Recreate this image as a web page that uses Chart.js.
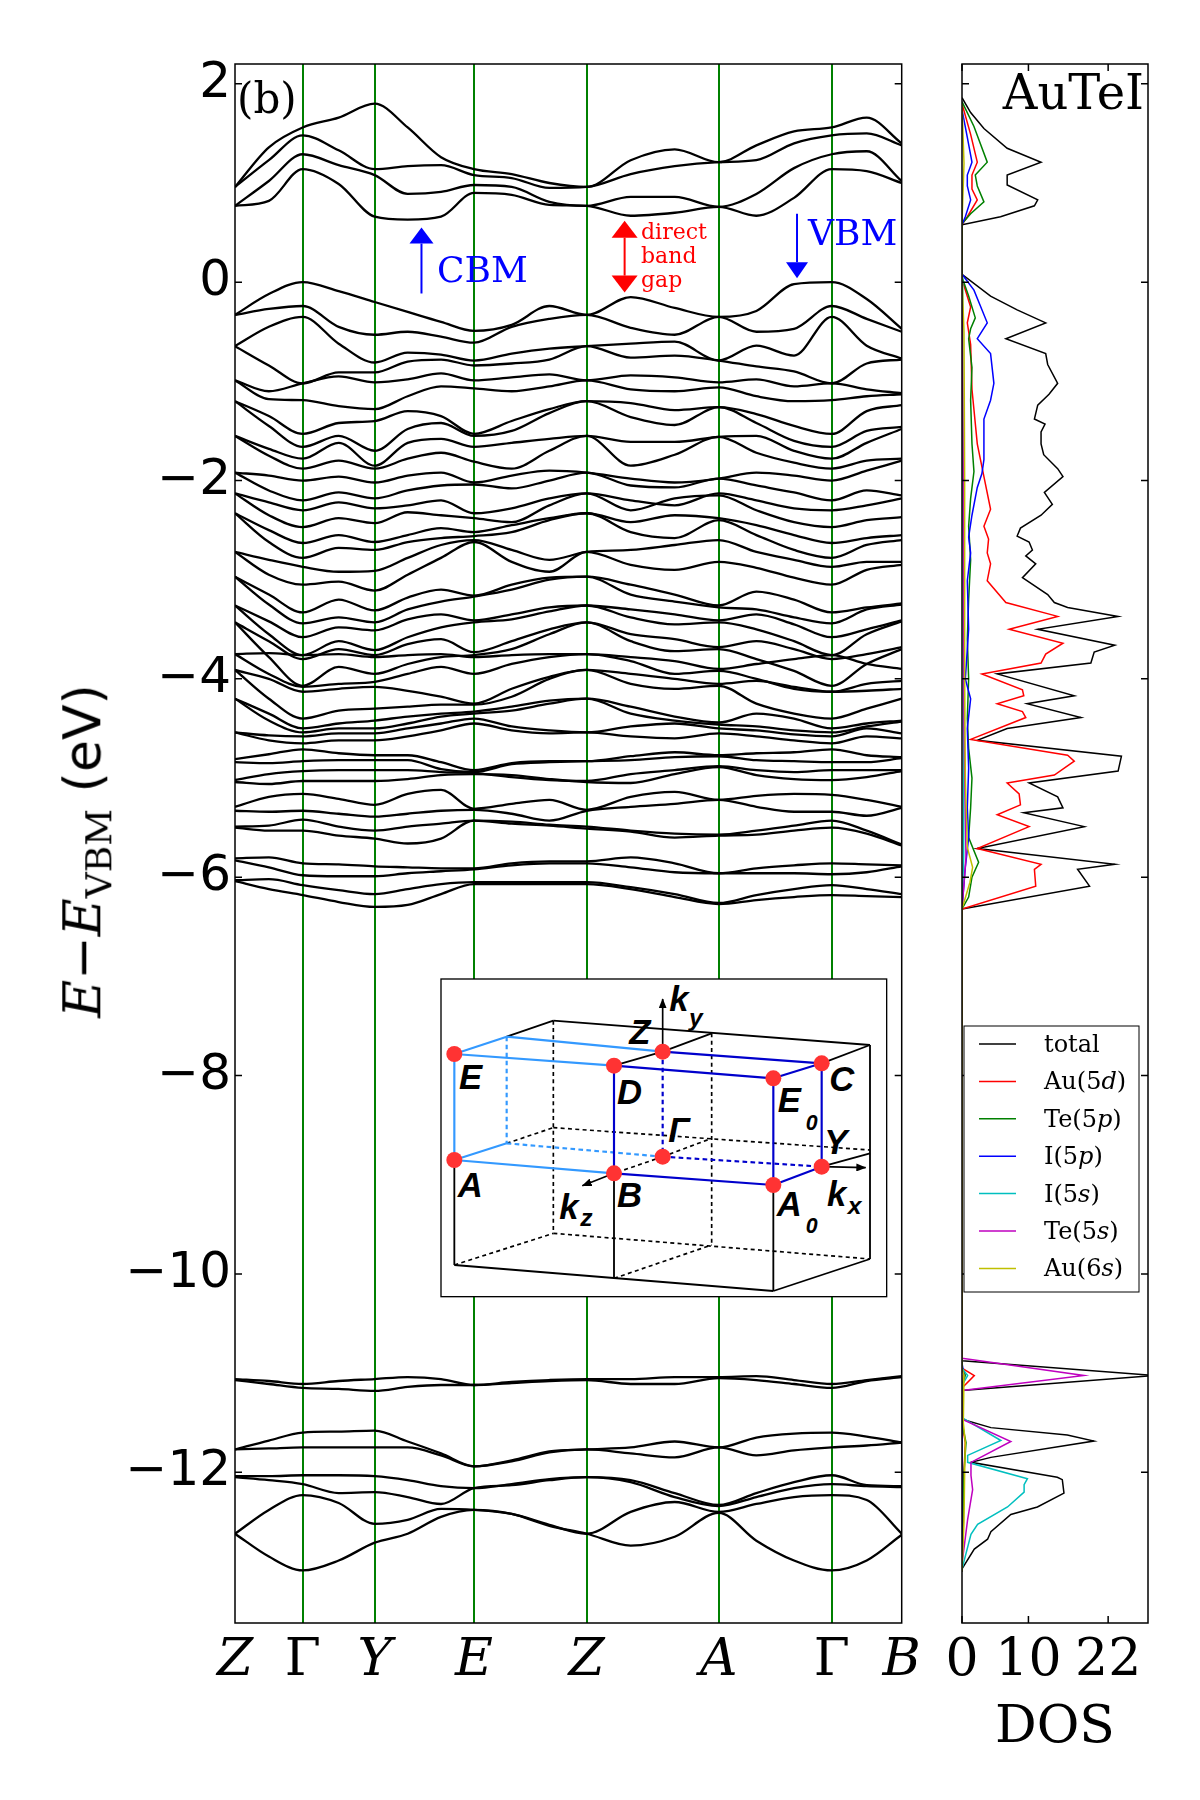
<!DOCTYPE html>
<html>
<head>
<meta charset="utf-8">
<script src="https://cdn.jsdelivr.net/npm/chart.js@4.4.1/dist/chart.umd.min.js"></script>
<style>
  html, body { margin: 0; padding: 0; background: #fff; }
  #wrap { position: relative; width: 1200px; height: 1800px; }
  canvas { position: absolute; left: 0; top: 0; }
  #ytitle { position: absolute; left: 86px; top: 851px; transform: translate(-50%, -50%) rotate(-90deg);
            white-space: nowrap; font-size: 52px; font-family: "DejaVu Sans"; color: #000; }
  #ytitle .m { font-family: "DejaVu Serif"; font-style: italic; }
  #ytitle sub { font-family: "DejaVu Serif"; font-size: 36px; }
  #inset { position: absolute; left: 435px; top: 975px; }
</style>
</head>
<body>
<div id="wrap">
  <canvas id="bands" width="1200" height="1800"></canvas>
  <canvas id="dos" width="1200" height="1800"></canvas>
  <div id="ytitle"><span class="m">E</span>−<span class="m">E</span><sub>VBM</sub> (eV)</div>
  <svg id="inset" width="460" height="340" viewBox="0 0 1380 1020">
    <defs>
      <marker id="ah" markerWidth="30" markerHeight="24" refX="28" refY="12" orient="auto" markerUnits="userSpaceOnUse">
        <path d="M0,0 L30,12 L0,24 Z" fill="#000"/>
      </marker>
    </defs>
    <rect x="18" y="12" width="1337" height="953" fill="#fff" stroke="#000" stroke-width="4"/>
    <g stroke="#000" stroke-width="5.5" fill="none">
      <line x1="355" y1="137" x2="1305" y2="210"/>
      <line x1="215" y1="185" x2="355" y2="137"/>
      <line x1="1160" y1="265" x2="1305" y2="210"/>
      <line x1="1305" y1="210" x2="1305" y2="852"/>
      <line x1="1305" y1="852" x2="1015" y2="948"/>
      <line x1="1015" y1="948" x2="58" y2="870"/>
      <line x1="58" y1="555" x2="58" y2="870"/>
      <line x1="537" y1="595" x2="537" y2="910"/>
      <line x1="1015" y1="630" x2="1015" y2="948"/>
      <line x1="1160" y1="575" x2="1305" y2="535"/>
      <line x1="683" y1="230" x2="830" y2="175"/>
      <line x1="537" y1="272" x2="683" y2="230"/>
    </g>
    <g stroke="#000" stroke-width="5" fill="none" stroke-dasharray="12 10">
      <line x1="355" y1="137" x2="355" y2="775"/>
      <line x1="830" y1="175" x2="830" y2="810"/>
      <line x1="355" y1="775" x2="1305" y2="852"/>
      <line x1="58" y1="870" x2="355" y2="775"/>
      <line x1="537" y1="910" x2="830" y2="810"/>
      <line x1="215" y1="505" x2="355" y2="458"/>
      <line x1="355" y1="458" x2="1305" y2="525"/>
      <line x1="683" y1="545" x2="830" y2="490"/>
      <line x1="683" y1="545" x2="537" y2="595"/>
    </g>
    <g stroke="#3399ff" stroke-width="6.5" fill="none">
      <line x1="58" y1="237" x2="215" y2="185"/>
      <line x1="58" y1="237" x2="537" y2="272"/>
      <line x1="215" y1="185" x2="683" y2="230"/>
      <line x1="58" y1="237" x2="58" y2="555"/>
      <line x1="58" y1="555" x2="215" y2="505"/>
      <line x1="58" y1="555" x2="537" y2="595"/>
    </g>
    <g stroke="#3399ff" stroke-width="6.5" fill="none" stroke-dasharray="14 10">
      <line x1="215" y1="185" x2="215" y2="505"/>
      <line x1="215" y1="505" x2="683" y2="545"/>
    </g>
    <g stroke="#0000cc" stroke-width="6.5" fill="none">
      <line x1="683" y1="230" x2="1160" y2="265"/>
      <line x1="537" y1="272" x2="1015" y2="310"/>
      <line x1="1015" y1="310" x2="1160" y2="265"/>
      <line x1="537" y1="272" x2="537" y2="595"/>
      <line x1="537" y1="595" x2="1015" y2="630"/>
      <line x1="1015" y1="630" x2="1160" y2="575"/>
      <line x1="1015" y1="310" x2="1015" y2="630"/>
      <line x1="1160" y1="265" x2="1160" y2="575"/>
    </g>
    <g stroke="#0000cc" stroke-width="6.5" fill="none" stroke-dasharray="14 10">
      <line x1="683" y1="230" x2="683" y2="545"/>
      <line x1="683" y1="545" x2="1160" y2="575"/>
    </g>
    <g stroke="#000" stroke-width="5" fill="none">
      <line x1="683" y1="230" x2="683" y2="72" marker-end="url(#ah)"/>
      <line x1="1160" y1="575" x2="1292" y2="578" marker-end="url(#ah)"/>
      <line x1="537" y1="595" x2="442" y2="632" marker-end="url(#ah)"/>
    </g>
    <g fill="#ff3333">
      <circle cx="58" cy="237" r="24"/><circle cx="683" cy="230" r="24"/>
      <circle cx="537" cy="272" r="24"/><circle cx="1160" cy="265" r="24"/>
      <circle cx="1015" cy="310" r="24"/><circle cx="683" cy="545" r="24"/>
      <circle cx="58" cy="555" r="24"/><circle cx="537" cy="595" r="24"/>
      <circle cx="1015" cy="630" r="24"/><circle cx="1160" cy="575" r="24"/>
    </g>
    <g font-family="Liberation Sans, Arial, sans-serif" font-weight="bold" font-style="italic" font-size="104" fill="#000">
      <text x="72" y="342">E</text>
      <text x="583" y="207">Z</text>
      <text x="703" y="107">k</text><text x="762" y="152" font-size="74">y</text>
      <text x="546" y="387">D</text>
      <text x="1183" y="347">C</text>
      <text x="1028" y="412">E</text><text x="1112" y="464" font-size="64">0</text>
      <text x="700" y="502">Γ</text>
      <text x="1168" y="537">Y</text>
      <text x="68" y="667">A</text>
      <text x="546" y="697">B</text>
      <text x="373" y="732">k</text><text x="436" y="754" font-size="74">z</text>
      <text x="1025" y="724">A</text><text x="1112" y="774" font-size="64">0</text>
      <text x="1176" y="692">k</text><text x="1238" y="718" font-size="74">x</text>
    </g>
  </svg>
</div>
<script>
// k-path: sample positions (fraction of path) and high-symmetry points
const kPos = [0, 0.0508, 0.1015, 0.1555, 0.2095, 0.259, 0.309, 0.3585, 0.415, 0.4715,
              0.5275, 0.5935, 0.6595, 0.7255, 0.782, 0.8385, 0.895, 0.9475, 1];
const kHighPos = [0, 0.1015, 0.2095, 0.3585, 0.5275, 0.7255, 0.895, 1];
const kLabels = ['Z', 'Γ', 'Y', 'E', 'Z', 'A', 'Γ', 'B'];
const energyTicks = [2, 0, -2, -4, -6, -8, -10, -12];
const dosTicks = [0, 10, 22];

// conduction bands (eV) at kPos
const conductionBands = [
  [0.96, 1.36, 1.56, 1.66, 1.80, 1.56, 1.26, 1.14, 1.09, 1.00, 0.96, 1.23, 1.34, 1.21, 1.38, 1.52, 1.56, 1.66, 1.40],
  [0.96, 1.23, 1.48, 1.33, 1.14, 1.17, 1.18, 1.08, 1.05, 0.95, 0.96, 1.09, 1.17, 1.21, 1.23, 1.40, 1.48, 1.50, 1.38],
  [0.77, 1.02, 1.29, 1.18, 1.08, 0.89, 0.91, 0.98, 0.96, 0.81, 0.77, 0.86, 0.86, 0.76, 0.89, 1.15, 1.29, 1.32, 1.02],
  [0.77, 0.82, 1.14, 0.99, 0.66, 0.63, 0.66, 0.90, 0.88, 0.78, 0.77, 0.67, 0.70, 0.76, 0.67, 0.85, 1.14, 1.12, 1.00]
];

// valence bands (eV) at kPos
const valenceBands = [
  [-0.33, -0.12, 0, -0.09, -0.20, -0.30, -0.40, -0.49, -0.43, -0.24, -0.33, -0.15, -0.26, -0.35, -0.29, -0.02, 0, -0.17, -0.47],
  [-0.33, -0.27, -0.24, -0.45, -0.53, -0.50, -0.55, -0.61, -0.45, -0.37, -0.33, -0.46, -0.53, -0.35, -0.50, -0.47, -0.24, -0.37, -0.50],
  [-0.645, -0.45, -0.35, -0.62, -0.81, -0.71, -0.73, -0.79, -0.72, -0.67, -0.645, -0.62, -0.60, -0.79, -0.64, -0.74, -0.35, -0.64, -0.77],
  [-0.645, -0.84, -1.02, -0.91, -0.91, -0.80, -0.78, -0.84, -0.82, -0.78, -0.645, -0.76, -0.74, -0.79, -0.85, -0.90, -1.02, -0.82, -0.78],
  [-0.99, -1.10, -1.02, -0.95, -1.01, -0.98, -0.92, -0.99, -0.96, -0.93, -0.99, -0.94, -0.96, -1.01, -0.98, -1.05, -1.02, -1.08, -1.12],
  [-0.99, -1.18, -1.19, -1.25, -1.28, -1.15, -1.05, -1.07, -1.10, -1.05, -0.99, -1.08, -1.10, -1.06, -1.15, -1.20, -1.19, -1.15, -1.13],
  [-1.20, -1.35, -1.53, -1.42, -1.40, -1.30, -1.35, -1.53, -1.40, -1.28, -1.20, -1.22, -1.29, -1.26, -1.33, -1.45, -1.53, -1.30, -1.24],
  [-1.20, -1.45, -1.66, -1.55, -1.70, -1.48, -1.42, -1.55, -1.50, -1.32, -1.20, -1.36, -1.44, -1.26, -1.42, -1.60, -1.66, -1.50, -1.46],
  [-1.55, -1.68, -1.78, -1.62, -1.85, -1.62, -1.58, -1.66, -1.62, -1.58, -1.55, -1.61, -1.61, -1.56, -1.55, -1.70, -1.78, -1.62, -1.48],
  [-1.55, -1.75, -1.88, -1.80, -1.88, -1.78, -1.72, -1.81, -1.88, -1.70, -1.55, -1.85, -1.74, -1.56, -1.72, -1.82, -1.88, -1.80, -1.78],
  [-1.92, -1.95, -2.00, -1.96, -2.02, -1.95, -1.92, -2.02, -1.95, -1.90, -1.92, -1.98, -2.02, -1.98, -1.92, -1.95, -2.00, -1.90, -1.80],
  [-1.92, -2.10, -2.20, -2.12, -2.18, -2.10, -2.05, -2.04, -2.08, -2.00, -1.92, -2.05, -2.07, -1.98, -2.05, -2.12, -2.20, -2.10, -2.15],
  [-2.13, -2.22, -2.30, -2.22, -2.28, -2.25, -2.20, -2.33, -2.28, -2.18, -2.13, -2.20, -2.25, -2.13, -2.20, -2.28, -2.30, -2.25, -2.18],
  [-2.13, -2.35, -2.47, -2.38, -2.43, -2.32, -2.35, -2.38, -2.42, -2.25, -2.13, -2.30, -2.18, -2.15, -2.30, -2.42, -2.47, -2.40, -2.37],
  [-2.33, -2.50, -2.63, -2.55, -2.62, -2.55, -2.48, -2.52, -2.45, -2.38, -2.33, -2.42, -2.35, -2.38, -2.45, -2.55, -2.63, -2.58, -2.55],
  [-2.33, -2.62, -2.78, -2.68, -2.70, -2.62, -2.58, -2.56, -2.52, -2.40, -2.33, -2.52, -2.58, -2.40, -2.55, -2.70, -2.78, -2.65, -2.60],
  [-2.72, -2.80, -2.87, -2.92, -2.91, -2.78, -2.65, -2.60, -2.70, -2.80, -2.72, -2.70, -2.65, -2.60, -2.72, -2.80, -2.87, -2.82, -2.82],
  [-2.72, -2.95, -3.05, -3.02, -3.11, -2.95, -2.78, -2.62, -2.82, -2.92, -2.72, -2.85, -2.90, -2.82, -2.88, -2.98, -3.05, -2.90, -2.85],
  [-2.97, -3.15, -3.33, -3.20, -3.31, -3.18, -3.10, -3.16, -3.05, -2.98, -2.97, -3.05, -3.15, -3.26, -3.12, -3.20, -3.33, -3.28, -3.24],
  [-2.97, -3.25, -3.44, -3.38, -3.43, -3.30, -3.22, -3.17, -3.10, -3.00, -2.97, -3.15, -3.22, -3.28, -3.30, -3.38, -3.44, -3.30, -3.25],
  [-3.26, -3.42, -3.58, -3.48, -3.51, -3.40, -3.35, -3.41, -3.35, -3.28, -3.26, -3.30, -3.35, -3.41, -3.35, -3.45, -3.58, -3.50, -3.41],
  [-3.26, -3.55, -3.76, -3.62, -3.71, -3.58, -3.48, -3.43, -3.40, -3.32, -3.26, -3.38, -3.45, -3.43, -3.50, -3.62, -3.76, -3.55, -3.42],
  [-3.43, -3.62, -3.80, -3.70, -3.76, -3.65, -3.60, -3.73, -3.62, -3.50, -3.43, -3.55, -3.60, -3.68, -3.62, -3.70, -3.80, -3.75, -3.68],
  [-3.43, -3.78, -4.07, -3.88, -3.95, -3.85, -3.78, -3.76, -3.70, -3.55, -3.43, -3.62, -3.72, -3.70, -3.80, -3.92, -4.07, -3.85, -3.70],
  [-3.75, -3.74, -3.76, -3.75, -3.78, -3.76, -3.75, -3.78, -3.76, -3.75, -3.75, -3.78, -3.82, -3.90, -3.85, -3.80, -3.76, -3.85, -3.90],
  [-3.75, -3.95, -4.08, -4.05, -4.03, -3.95, -3.88, -3.95, -3.85, -3.78, -3.75, -3.82, -3.95, -3.92, -4.00, -4.10, -4.13, -4.05, -4.02],
  [-3.91, -4.00, -4.13, -4.10, -4.08, -4.12, -4.18, -4.25, -4.10, -3.98, -3.91, -3.95, -4.00, -4.05, -4.02, -4.08, -4.13, -4.12, -4.10],
  [-3.91, -4.20, -4.40, -4.32, -4.30, -4.28, -4.26, -4.26, -4.18, -4.00, -3.91, -4.05, -4.10, -4.07, -4.25, -4.35, -4.40, -4.30, -4.20],
  [-4.20, -4.35, -4.50, -4.45, -4.42, -4.38, -4.35, -4.33, -4.28, -4.22, -4.20, -4.28, -4.38, -4.44, -4.35, -4.40, -4.50, -4.45, -4.42],
  [-4.20, -4.42, -4.54, -4.50, -4.50, -4.45, -4.38, -4.35, -4.32, -4.25, -4.20, -4.35, -4.42, -4.46, -4.48, -4.52, -4.54, -4.48, -4.43],
  [-4.54, -4.57, -4.58, -4.55, -4.55, -4.50, -4.45, -4.40, -4.48, -4.52, -4.54, -4.48, -4.45, -4.50, -4.52, -4.56, -4.58, -4.50, -4.55],
  [-4.54, -4.62, -4.65, -4.62, -4.62, -4.58, -4.52, -4.45, -4.52, -4.55, -4.54, -4.58, -4.60, -4.55, -4.58, -4.62, -4.65, -4.58, -4.60],
  [-4.81, -4.76, -4.71, -4.75, -4.77, -4.77, -4.84, -4.92, -4.85, -4.83, -4.83, -4.78, -4.74, -4.77, -4.75, -4.74, -4.71, -4.77, -4.79],
  [-4.84, -4.85, -4.83, -4.82, -4.82, -4.82, -4.91, -4.94, -4.86, -4.84, -4.83, -4.82, -4.79, -4.78, -4.82, -4.83, -4.84, -4.84, -4.80],
  [-5.02, -4.96, -4.93, -4.92, -4.92, -4.92, -4.94, -4.95, -4.99, -5.02, -5.03, -4.96, -4.92, -4.88, -4.92, -4.94, -4.92, -4.92, -4.92],
  [-5.04, -5.06, -5.03, -5.03, -5.03, -5.01, -4.97, -4.96, -4.97, -5.01, -5.04, -5.05, -4.96, -4.89, -4.97, -5.01, -5.02, -4.99, -4.93],
  [-5.29, -5.19, -5.16, -5.21, -5.27, -5.16, -5.12, -5.31, -5.26, -5.22, -5.32, -5.19, -5.14, -5.22, -5.18, -5.16, -5.17, -5.22, -5.29],
  [-5.33, -5.34, -5.33, -5.36, -5.39, -5.36, -5.33, -5.32, -5.36, -5.43, -5.33, -5.29, -5.26, -5.22, -5.29, -5.34, -5.34, -5.38, -5.30],
  [-5.49, -5.48, -5.42, -5.49, -5.53, -5.49, -5.46, -5.43, -5.44, -5.47, -5.49, -5.53, -5.56, -5.57, -5.53, -5.48, -5.43, -5.53, -5.67],
  [-5.50, -5.53, -5.53, -5.58, -5.61, -5.66, -5.61, -5.43, -5.46, -5.48, -5.51, -5.54, -5.60, -5.58, -5.57, -5.53, -5.50, -5.56, -5.68],
  [-5.81, -5.80, -5.86, -5.87, -5.89, -5.90, -5.91, -5.91, -5.86, -5.84, -5.84, -5.80, -5.86, -5.96, -5.91, -5.88, -5.86, -5.87, -5.88],
  [-5.83, -5.90, -5.98, -5.99, -5.99, -5.96, -5.94, -5.92, -5.88, -5.86, -5.86, -5.90, -5.95, -5.96, -5.96, -5.96, -5.97, -5.95, -5.89],
  [-6.03, -6.02, -6.08, -6.13, -6.17, -6.12, -6.07, -6.05, -6.05, -6.05, -6.05, -6.10, -6.17, -6.26, -6.18, -6.12, -6.08, -6.12, -6.17],
  [-6.04, -6.12, -6.18, -6.25, -6.30, -6.28, -6.17, -6.07, -6.07, -6.07, -6.07, -6.12, -6.20, -6.27, -6.23, -6.20, -6.18, -6.19, -6.20]
];

// semicore s bands (eV) at kPos
const lowerBands = [
  [-11.06, -11.08, -11.11, -11.08, -11.06, -11.04, -11.06, -11.12, -11.09, -11.07, -11.06, -11.06, -11.04, -11.04, -11.03, -11.07, -11.11, -11.07, -11.03],
  [-11.07, -11.11, -11.15, -11.16, -11.18, -11.14, -11.12, -11.12, -11.10, -11.08, -11.07, -11.11, -11.11, -11.05, -11.07, -11.11, -11.15, -11.08, -11.04],
  [-11.77, -11.68, -11.60, -11.59, -11.58, -11.69, -11.81, -11.94, -11.88, -11.79, -11.77, -11.75, -11.69, -11.75, -11.65, -11.61, -11.60, -11.64, -11.70],
  [-11.77, -11.76, -11.75, -11.75, -11.75, -11.75, -11.83, -11.94, -11.89, -11.80, -11.77, -11.81, -11.85, -11.75, -11.83, -11.78, -11.75, -11.73, -11.70],
  [-12.04, -12.04, -12.03, -12.03, -12.04, -12.08, -12.14, -12.16, -12.12, -12.07, -12.05, -12.08, -12.21, -12.33, -12.21, -12.10, -12.03, -12.13, -12.14],
  [-12.05, -12.08, -12.12, -12.21, -12.20, -12.25, -12.32, -12.16, -12.13, -12.08, -12.05, -12.10, -12.25, -12.34, -12.25, -12.16, -12.12, -12.14, -12.15],
  [-12.62, -12.38, -12.23, -12.31, -12.52, -12.48, -12.37, -12.38, -12.42, -12.53, -12.62, -12.40, -12.30, -12.40, -12.32, -12.25, -12.23, -12.28, -12.62],
  [-12.62, -12.85, -12.99, -12.89, -12.71, -12.62, -12.45, -12.38, -12.42, -12.54, -12.62, -12.74, -12.65, -12.41, -12.69, -12.89, -12.99, -12.89, -12.63]
];

// density of states: energies (eV) and values
const totalE = [1.86, 1.71, 1.55, 1.35, 1.21, 1.08, 0.98, 0.83, 0.77, 0.66, 0.58,
  0.08, -0.14, -0.28, -0.41, -0.57, -0.72, -0.83, -1.02, -1.13, -1.24, -1.38, -1.43, -1.51, -1.63, -1.74, -1.88, -1.96,
  -2.12, -2.24, -2.35, -2.48, -2.56, -2.62, -2.70, -2.76, -2.84, -2.98, -3.15, -3.23, -3.28, -3.37, -3.50, -3.66, -3.73,
  -3.84, -3.95, -4.17, -4.25, -4.39, -4.50, -4.62, -4.78, -4.93, -5.05, -5.19, -5.30, -5.35, -5.49, -5.71, -5.87, -5.92,
  -6.09, -6.32,
  -10.875, -11.025, -11.175, -11.465, -11.55, -11.625, -11.685, -11.85, -11.90, -12.05, -12.075, -12.21, -12.35, -12.425,
  -12.60, -12.675, -12.775, -12.975];
const totalDos = [0, 1.3, 3.3, 6.8, 11.9, 6.8, 6.8, 11.4, 10.9, 5.8, 0,
  0, 4.3, 8.3, 12.6, 6.6, 12.6, 12.9, 14.4, 13.1, 11.4, 10.9, 12.5, 11.9, 11.9, 12.3, 14.4, 15.2,
  12.4, 13.6, 11.9, 8.8, 8.3, 10.1, 10.6, 9.6, 11.1, 9.1, 12.9, 13.9, 15.9, 23.5, 11.4, 23.0, 19.9,
  19.4, 5.3, 16.9, 9.8, 17.9, 6.8, 2.3, 24.0, 23.5, 10.1, 14.4, 15.2, 9.3, 18.4, 2.3, 23.0, 17.4,
  19.2, 0,
  0, 29, 0, 0, 4.35, 15.85, 19.85, 4.35, 1.35, 14.35, 15.1, 15.35, 11.35, 7.35,
  4.35, 3.85, 1.85, 0];
const au5dE = [1.80, 1.49, 1.21, 1.08, 0.94, 0.83, 0.66, 0.58,
  0.03, -0.25, -0.41, -0.63, -1.08, -1.63, -1.96, -2.29, -2.46, -2.59, -2.73, -2.84, -3.01, -3.23, -3.37, -3.50, -3.64,
  -3.75, -3.84, -3.95, -4.11, -4.17, -4.25, -4.33, -4.39, -4.61, -4.77, -4.83, -4.97, -5.05, -5.16, -5.27, -5.37, -5.49,
  -5.71, -5.87, -5.92, -6.09, -6.32,
  -10.95, -11.025, -11.15, -11.5, -11.7, -12.0, -12.4, -13.0];
const au5dDos = [0, 1.3, 2.3, 1.5, 1.5, 2.3, 0.8, 0,
  0, 1.3, 0.8, 1.3, 1.5, 2.3, 3.3, 4.3, 3.3, 4.0, 3.8, 4.3, 3.8, 6.6, 14.4, 7.1, 15.2,
  12.6, 11.9, 3.0, 9.1, 9.3, 5.3, 9.1, 9.6, 1.3, 15.9, 16.9, 13.9, 6.8, 8.6, 8.8, 5.3, 10.1,
  2.3, 11.9, 10.9, 11.1, 0,
  0, 1.85, 0, 0, 0.5, 0.3, 0.2, 0];
const te5pE = [1.82, 1.57, 1.21, 1.08, 0.97, 0.81, 0.69, 0.59,
  0.05, -0.14, -0.36, -0.47, -0.57, -0.86, -1.19, -1.63, -1.91, -2.18, -2.46, -2.8, -3.2, -3.6, -4.0, -4.4, -4.7,
  -5.0, -5.3, -5.6, -5.85, -6.0, -6.2, -6.32,
  -10.95, -11.02, -11.15, -11.5, -11.7, -12.0, -13.0];
const te5pDos = [0, 1.8, 3.8, 2.0, 2.3, 3.3, 1.3, 0,
  0, 1.0, 2.0, 1.3, 1.0, 1.5, 1.3, 1.5, 1.8, 1.3, 1.0, 1.3, 1.0, 0.8, 1.0, 0.8, 1.0,
  1.5, 1.3, 1.0, 2.5, 1.5, 1.0, 0,
  0, 0.5, 0, 0, 0.6, 0.3, 0];
const i5pE = [1.74, 1.46, 1.21, 1.08, 0.97, 0.83, 0.66, 0.58,
  0.08, -0.08, -0.41, -0.57, -0.72, -1.02, -1.19, -1.38, -1.63, -1.79, -1.93, -2.07, -2.35, -2.57, -2.73, -3.01,
  -3.5, -4.0, -4.2, -4.5, -4.9, -5.3, -5.6, -5.9, -6.32,
  -10.9, -11.02, -11.15, -13.0];
const i5pDos = [0, 0.8, 1.5, 0.8, 0.8, 1.3, 0.5, 0,
  0, 1.8, 3.8, 2.3, 4.3, 4.8, 4.3, 3.3, 3.3, 3.3, 3.0, 2.3, 1.5, 1.0, 1.3, 0.8,
  1.0, 0.5, 1.3, 0.8, 1.0, 0.8, 1.0, 0.5, 0,
  0, 0.3, 0, 0];
const i5sE = [0.05, -1.0, -3.0, -4.8, -5.8, -6.32,
  -10.95, -11.025, -11.125, -11.45, -11.68, -11.83, -11.90, -12.065, -12.125, -12.2, -12.35, -12.525, -12.625, -12.975];
const i5sDos = [0, 0.1, 0.2, 0.2, 0.3, 0,
  0, 0.85, 0, 0, 5.85, 0.85, 0.85, 9.85, 9.35, 9.35, 6.85, 2.35, 1.35, 0];
const te5sE = [0.05, -2.0, -4.5, -5.8, -6.32,
  -10.85, -11.025, -11.175, -11.465, -11.69, -11.90, -12.03, -12.175, -12.475, -12.925];
const te5sDos = [0, 0.2, 0.3, 0.6, 0,
  0, 18.35, 0, 0, 7.35, 1.35, 1.35, 1.6, 0.85, 0];
const au6sE = [1.8, 1.2, 0.6,
  0.05, -0.5, -2.0, -4.0, -5.0, -5.7, -5.9, -6.05, -6.32,
  -10.95, -11.02, -11.5, -11.7, -12.0, -12.5, -13.0];
const au6sDos = [0, 0.3, 0,
  0, 0.3, 0.4, 0.4, 0.5, 0.8, 1.6, 1.2, 0,
  0, 0.3, 0.2, 0.5, 0.4, 0.3, 0];

const dosLabels = ['total', 'Au(5d)', 'Te(5p)', 'I(5p)', 'I(5s)', 'Te(5s)', 'Au(6s)'];
const dosColors = ['#000000', '#ff0000', '#008000', '#0000ff', '#00bfbf', '#bf00bf', '#bfbf00'];

const E_MIN = -13.52, E_MAX = 2.2;

function minusLabel(v) {
  return v < 0 ? '\u2212' + Math.abs(v) : String(v);
}

function drawVArrow(ctx, x, y0, y1, color, headLen, headW, both) {
  const dir = Math.sign(y1 - y0);
  ctx.strokeStyle = color;
  ctx.fillStyle = color;
  ctx.lineWidth = 2;
  ctx.beginPath();
  ctx.moveTo(x, y0 + (both ? dir * headLen : 0));
  ctx.lineTo(x, y1 - dir * headLen);
  ctx.stroke();
  const head = (hy, d) => {
    ctx.beginPath();
    ctx.moveTo(x, hy);
    ctx.lineTo(x - headW / 2, hy - d * headLen);
    ctx.lineTo(x + headW / 2, hy - d * headLen);
    ctx.closePath();
    ctx.fill();
  };
  head(y1, dir);
  if (both) head(y0, -dir);
}

const bandDecor = {
  id: 'bandDecor',
  afterDraw(chart) {
    const { ctx, chartArea: a, scales: { x, y } } = chart;
    ctx.save();
    ctx.strokeStyle = '#000';
    ctx.lineWidth = 1.5;
    ctx.strokeRect(a.left, a.top, a.right - a.left, a.bottom - a.top);
    energyTicks.forEach(v => {
      const py = y.getPixelForValue(v);
      ctx.beginPath();
      ctx.moveTo(a.left, py); ctx.lineTo(a.left + 7, py);
      ctx.moveTo(a.right - 7, py); ctx.lineTo(a.right, py);
      ctx.stroke();
    });

    // annotations
    drawVArrow(ctx, x.getPixelForValue(0.2797), y.getPixelForValue(-0.114), y.getPixelForValue(0.551), '#0000ff', 16, 24, false);
    drawVArrow(ctx, x.getPixelForValue(0.5844), y.getPixelForValue(-0.105), y.getPixelForValue(0.62), '#ff0000', 17, 26, true);
    drawVArrow(ctx, x.getPixelForValue(0.843), y.getPixelForValue(0.69), y.getPixelForValue(0.04), '#0000ff', 16, 22, false);

    ctx.textBaseline = 'alphabetic';
    ctx.textAlign = 'left';
    ctx.fillStyle = '#0000ff';
    ctx.font = '36px "DejaVu Serif"';
    ctx.fillText('CBM', x.getPixelForValue(0.303), y.getPixelForValue(0.0));
    ctx.fillText('VBM', x.getPixelForValue(0.8595), y.getPixelForValue(0.37));
    ctx.fillStyle = '#ff0000';
    ctx.font = '22px "DejaVu Serif"';
    ctx.fillText('direct', x.getPixelForValue(0.609), y.getPixelForValue(0.44));
    ctx.fillText('band', x.getPixelForValue(0.609), y.getPixelForValue(0.19));
    ctx.fillText('gap', x.getPixelForValue(0.609), y.getPixelForValue(-0.05));
    ctx.fillStyle = '#000';
    ctx.font = '42px "DejaVu Serif"';
    ctx.fillText('(b)', a.left + 2, y.getPixelForValue(1.71));
    ctx.restore();
  }
};

const allBands = [...conductionBands, ...valenceBands, ...lowerBands];

new Chart(document.getElementById('bands'), {
  type: 'line',
  data: {
    datasets: allBands.map(b => ({
      data: b.map((e, i) => ({ x: kPos[i], y: e })),
      borderColor: '#000',
      borderWidth: 2.3,
      pointRadius: 0,
      fill: false,
      cubicInterpolationMode: 'monotone'
    }))
  },
  options: {
    responsive: false,
    animation: false,
    devicePixelRatio: 1,
    layout: { padding: { top: 64, left: 0, right: 298.3, bottom: 0 } },
    plugins: { legend: { display: false }, tooltip: { enabled: false } },
    scales: {
      x: {
        type: 'linear', min: 0, max: 1,
        afterBuildTicks: s => { s.ticks = kHighPos.map(v => ({ value: v })); },
        afterFit: s => { s.height = 177; },
        ticks: {
          autoSkip: false, maxRotation: 0, padding: 7, color: '#000',
          callback: (v, i) => kLabels[i],
          font: c => ({ family: 'DejaVu Serif', size: 52, style: kLabels[c.index] === 'Γ' ? 'normal' : 'italic' })
        },
        grid: {
          drawTicks: false, lineWidth: 2,
          color: c => (c.index === 0 || c.index === kHighPos.length - 1) ? 'rgba(0,0,0,0)' : '#008000'
        },
        border: { display: false }
      },
      y: {
        type: 'linear', min: E_MIN, max: E_MAX,
        afterBuildTicks: s => { s.ticks = energyTicks.map(v => ({ value: v })); },
        afterFit: s => { s.width = 235; },
        ticks: { padding: 4, color: '#000', callback: v => minusLabel(v), font: { family: 'DejaVu Sans', size: 50 } },
        grid: { display: false, drawTicks: false },
        border: { display: false }
      }
    }
  },
  plugins: [bandDecor]
});

const dosSeries = [
  { e: totalE, d: totalDos }, { e: au5dE, d: au5dDos }, { e: te5pE, d: te5pDos }, { e: i5pE, d: i5pDos },
  { e: i5sE, d: i5sDos }, { e: te5sE, d: te5sDos }, { e: au6sE, d: au6sDos }
];

function drawLegendLabel(ctx, text, x, y) {
  // orbital letter in italics, like math text
  const m = text.match(/^(.*\(\d)([a-z])(\))$/);
  const upright = '24px "DejaVu Serif"', italic = 'italic 24px "DejaVu Serif"';
  if (!m) { ctx.font = upright; ctx.fillText(text, x, y); return; }
  let cx = x;
  [[m[1], upright], [m[2], italic], [m[3], upright]].forEach(([t, f]) => {
    ctx.font = f;
    ctx.fillText(t, cx, y);
    cx += ctx.measureText(t).width;
  });
}

const dosDecor = {
  id: 'dosDecor',
  afterDraw(chart) {
    const { ctx, chartArea: a, scales: { x, y } } = chart;
    ctx.save();
    ctx.strokeStyle = '#000';
    ctx.lineWidth = 1.5;
    ctx.strokeRect(a.left, a.top, a.right - a.left, a.bottom - a.top);
    energyTicks.forEach(v => {
      const py = y.getPixelForValue(v);
      ctx.beginPath();
      ctx.moveTo(a.left, py); ctx.lineTo(a.left + 7, py);
      ctx.moveTo(a.right - 7, py); ctx.lineTo(a.right, py);
      ctx.stroke();
    });
    dosTicks.forEach(v => {
      const px = x.getPixelForValue(v);
      ctx.beginPath();
      ctx.moveTo(px, a.bottom); ctx.lineTo(px, a.bottom - 7);
      ctx.moveTo(px, a.top); ctx.lineTo(px, a.top + 7);
      ctx.stroke();
    });

    ctx.fillStyle = '#000';
    ctx.textBaseline = 'alphabetic';
    ctx.font = '48px "DejaVu Serif"';
    ctx.textAlign = 'right';
    ctx.fillText('AuTeI', a.right - 4, 109);
    ctx.font = '52px "DejaVu Serif"';
    ctx.textAlign = 'center';
    ctx.fillText('DOS', (a.left + a.right) / 2, 1742);

    // legend
    const lx = a.left + 2, ly = 1026, lw = 175, lh = 266, row = 37.4;
    ctx.fillStyle = '#fff';
    ctx.fillRect(lx, ly, lw, lh);
    ctx.lineWidth = 1;
    ctx.strokeRect(lx, ly, lw, lh);
    ctx.textAlign = 'left';
    dosLabels.forEach((lab, i) => {
      const ry = ly + 18 + i * row;
      ctx.strokeStyle = dosColors[i];
      ctx.lineWidth = 1.5;
      ctx.beginPath();
      ctx.moveTo(lx + 15, ry); ctx.lineTo(lx + 52, ry);
      ctx.stroke();
      ctx.fillStyle = '#000';
      drawLegendLabel(ctx, lab, lx + 80, ry + 8);
    });
    ctx.restore();
  }
};

new Chart(document.getElementById('dos'), {
  type: 'scatter',
  data: {
    datasets: dosSeries.map((s, i) => ({
      label: dosLabels[i],
      data: s.e.map((e, j) => ({ x: s.d[j], y: e })),
      showLine: true,
      borderColor: dosColors[i],
      borderWidth: 1.5,
      pointRadius: 0,
      order: dosSeries.length - i
    }))
  },
  options: {
    responsive: false,
    animation: false,
    devicePixelRatio: 1,
    layout: { padding: { top: 64, left: 962, right: 52, bottom: 0 } },
    plugins: { legend: { display: false }, tooltip: { enabled: false } },
    scales: {
      x: {
        type: 'linear', min: 0, max: 28,
        afterBuildTicks: s => { s.ticks = dosTicks.map(v => ({ value: v })); },
        afterFit: s => { s.height = 177; },
        ticks: { autoSkip: false, maxRotation: 0, padding: 7, color: '#000', font: { family: 'DejaVu Serif', size: 52 } },
        grid: { display: false, drawTicks: false },
        border: { display: false }
      },
      y: { type: 'linear', min: E_MIN, max: E_MAX, display: false }
    }
  },
  plugins: [dosDecor]
});
</script>
</body>
</html>
